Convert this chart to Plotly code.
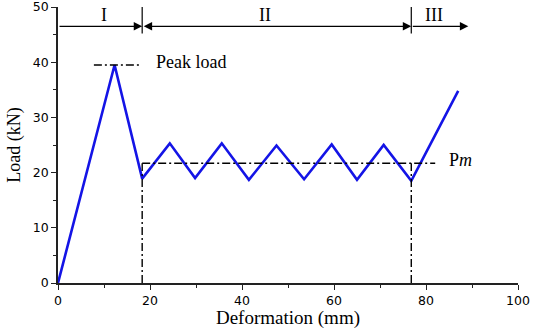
import plotly.graph_objects as go

# Load-deformation curve
deformation = [0, 12.3, 18.3, 24.3, 29.8, 35.6, 41.5, 47.5, 53.5, 59.5, 65.0, 70.8, 76.8, 87.0]
load = [0, 39.5, 18.9, 25.3, 19.0, 25.3, 18.7, 24.9, 18.8, 25.1, 18.7, 25.0, 18.5, 34.8]

peak_load = 39.5
pm_value = 21.7
peak_line_x = [7.8, 17.8]
pm_line_x = [18.3, 82.0]
stage_bounds = [0, 18.3, 76.8, 89.2]
stage_labels = ["I", "II", "III"]
stage_label_x = [9.9, 45.0, 81.7]
arrow_y = 46.5

x_ticks = [0, 20, 40, 60, 80, 100]
y_ticks = [0, 10, 20, 30, 40, 50]

serif = "Liberation Serif, Times New Roman, serif"
sans = "DejaVu Sans, Verdana, sans-serif"
dashdot = "8px,3px,2px,3px"

fig = go.Figure()

fig.add_trace(go.Scatter(x=deformation, y=load, mode="lines",
                         line=dict(color="#1414e6", width=2.6), showlegend=False))

# Peak load line
fig.add_trace(go.Scatter(x=peak_line_x, y=[peak_load, peak_load], mode="lines",
                         line=dict(color="black", width=1.4, dash=dashdot), showlegend=False))
# Pm line
fig.add_trace(go.Scatter(x=pm_line_x, y=[pm_value, pm_value], mode="lines",
                         line=dict(color="black", width=1.4, dash=dashdot), showlegend=False))
# vertical dash-dot lines and stage separators
for xb in stage_bounds[1:3]:
    fig.add_trace(go.Scatter(x=[xb, xb], y=[0, pm_value], mode="lines",
                             line=dict(color="black", width=1.4, dash=dashdot), showlegend=False))
    fig.add_trace(go.Scatter(x=[xb, xb], y=[45.2, 50.5], mode="lines",
                             line=dict(color="black", width=1.2), showlegend=False, cliponaxis=False))

annotations = []
sides = ["end", "end+start", "end"]
for i in range(3):
    annotations.append(dict(x=stage_bounds[i + 1], y=arrow_y, ax=stage_bounds[i], ay=arrow_y,
                            xref="x", yref="y", axref="x", ayref="y", text="", showarrow=True,
                            arrowhead=2, arrowsize=1.3, arrowwidth=1.3, arrowcolor="black",
                            arrowside=sides[i], startarrowhead=2, startarrowsize=1.3,
                            standoff=0, startstandoff=0))
    annotations.append(dict(x=stage_label_x[i], y=48.5, xref="x", yref="y", text=stage_labels[i],
                            showarrow=False, font=dict(family=serif, size=18, color="black")))

annotations.append(dict(x=20.8, y=40.1, xref="x", yref="y", text="Peak load", xanchor="left",
                        showarrow=False, font=dict(family=serif, size=18, color="black")))
annotations.append(dict(x=84.6, y=22.2, xref="x", yref="y", text="P<i>m</i>", xanchor="left",
                        showarrow=False, font=dict(family=serif, size=18, color="black")))

fig.update_layout(
    width=533, height=329,
    margin=dict(l=58, r=15, t=7, b=46),
    paper_bgcolor="white", plot_bgcolor="white",
    annotations=annotations,
    xaxis=dict(range=[0, 100], tickvals=x_ticks, ticks="outside", ticklen=5, tickwidth=1.3,
               tickcolor="#222", showline=True, linecolor="#222", linewidth=1.5,
               showgrid=False, zeroline=False, ticklabeloverflow="allow", automargin=False,
               minor=dict(ticks="outside", ticklen=3, dtick=10, tickcolor="#222"),
               tickfont=dict(family=sans, size=12.5, color="black"),
               title=dict(text="Deformation (mm)", font=dict(family=serif, size=19, color="black"), standoff=1)),
    yaxis=dict(range=[0, 50], tickvals=y_ticks, ticks="outside", ticklen=5, tickwidth=1.3,
               tickcolor="#222", showline=True, linecolor="#222", linewidth=1.5,
               showgrid=False, zeroline=False, ticklabeloverflow="allow", automargin=False,
               minor=dict(ticks="outside", ticklen=3, dtick=5, tickcolor="#222"),
               tickfont=dict(family=sans, size=12.5, color="black"),
               title=dict(text="Load (kN)", font=dict(family=serif, size=18, color="black"), standoff=8)),
)

fig.write_html("out.html", config={"displayModeBar": False},
               post_script="document.body.style.margin='0';document.body.style.overflow='hidden';")
